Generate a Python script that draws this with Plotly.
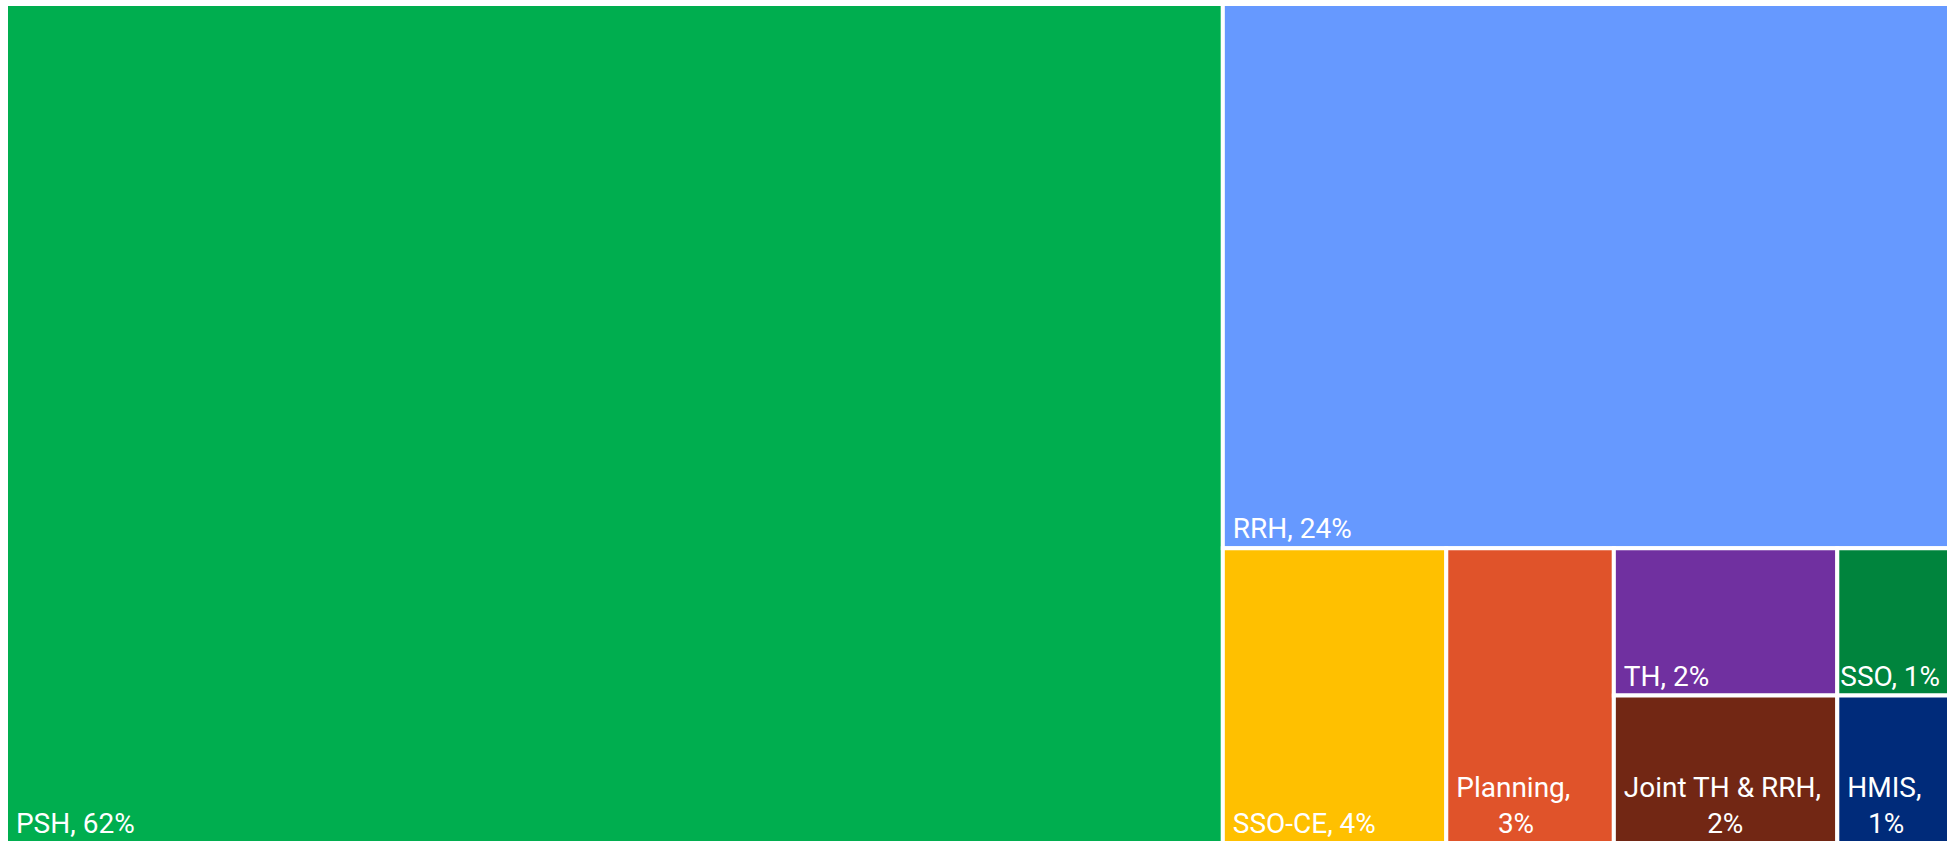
import plotly.graph_objects as go

# Share of funding by component type (percent)
labels = ["PSH", "RRH", "SSO-CE", "Planning", "TH", "Joint TH & RRH", "SSO", "HMIS"]
values = [62, 24, 4, 3, 2, 2, 1, 1]
colors = ["#00AE4F", "#6699FF", "#FFC000", "#E0532A", "#7030A0", "#722714", "#00843D", "#002B7A"]

NB = "\u00a0"
# Tile captions: narrow tiles wrap onto two lines, second line centred under the first
captions = [
    f"{NB}PSH, {values[0]}%",
    f"{NB}RRH, {values[1]}%",
    f"{NB}SSO-CE, {values[2]}%",
    f"{NB}Planning,<br>{NB * 7}{values[3]}%",
    f"{NB}TH, {values[4]}%",
    f"{NB}Joint TH & RRH,<br>{NB * 13}{values[5]}%",
    f"SSO, {values[6]}%",
    f"{NB}HMIS,<br>{NB * 4}{values[7]}%",
]

fig = go.Figure(
    go.Treemap(
        labels=labels,
        parents=[""] * len(labels),
        values=values,
        text=captions,
        texttemplate="%{text}",
        textposition="bottom left",
        textfont=dict(family="Roboto", size=28, color="white"),
        marker=dict(colors=colors, line=dict(color="white", width=4),
                    pad=dict(t=0, l=0, r=0, b=0)),
        tiling=dict(packing="squarify", squarifyratio=1, pad=0),
        pathbar=dict(visible=False),
        sort=False,
        hoverinfo="label+value",
    )
)

fig.update_layout(
    width=1949,
    height=843,
    margin=dict(l=6, r=0, t=4, b=0),
    paper_bgcolor="white",
    plot_bgcolor="white",
    showlegend=False,
)

fig.write_html("out.html")
